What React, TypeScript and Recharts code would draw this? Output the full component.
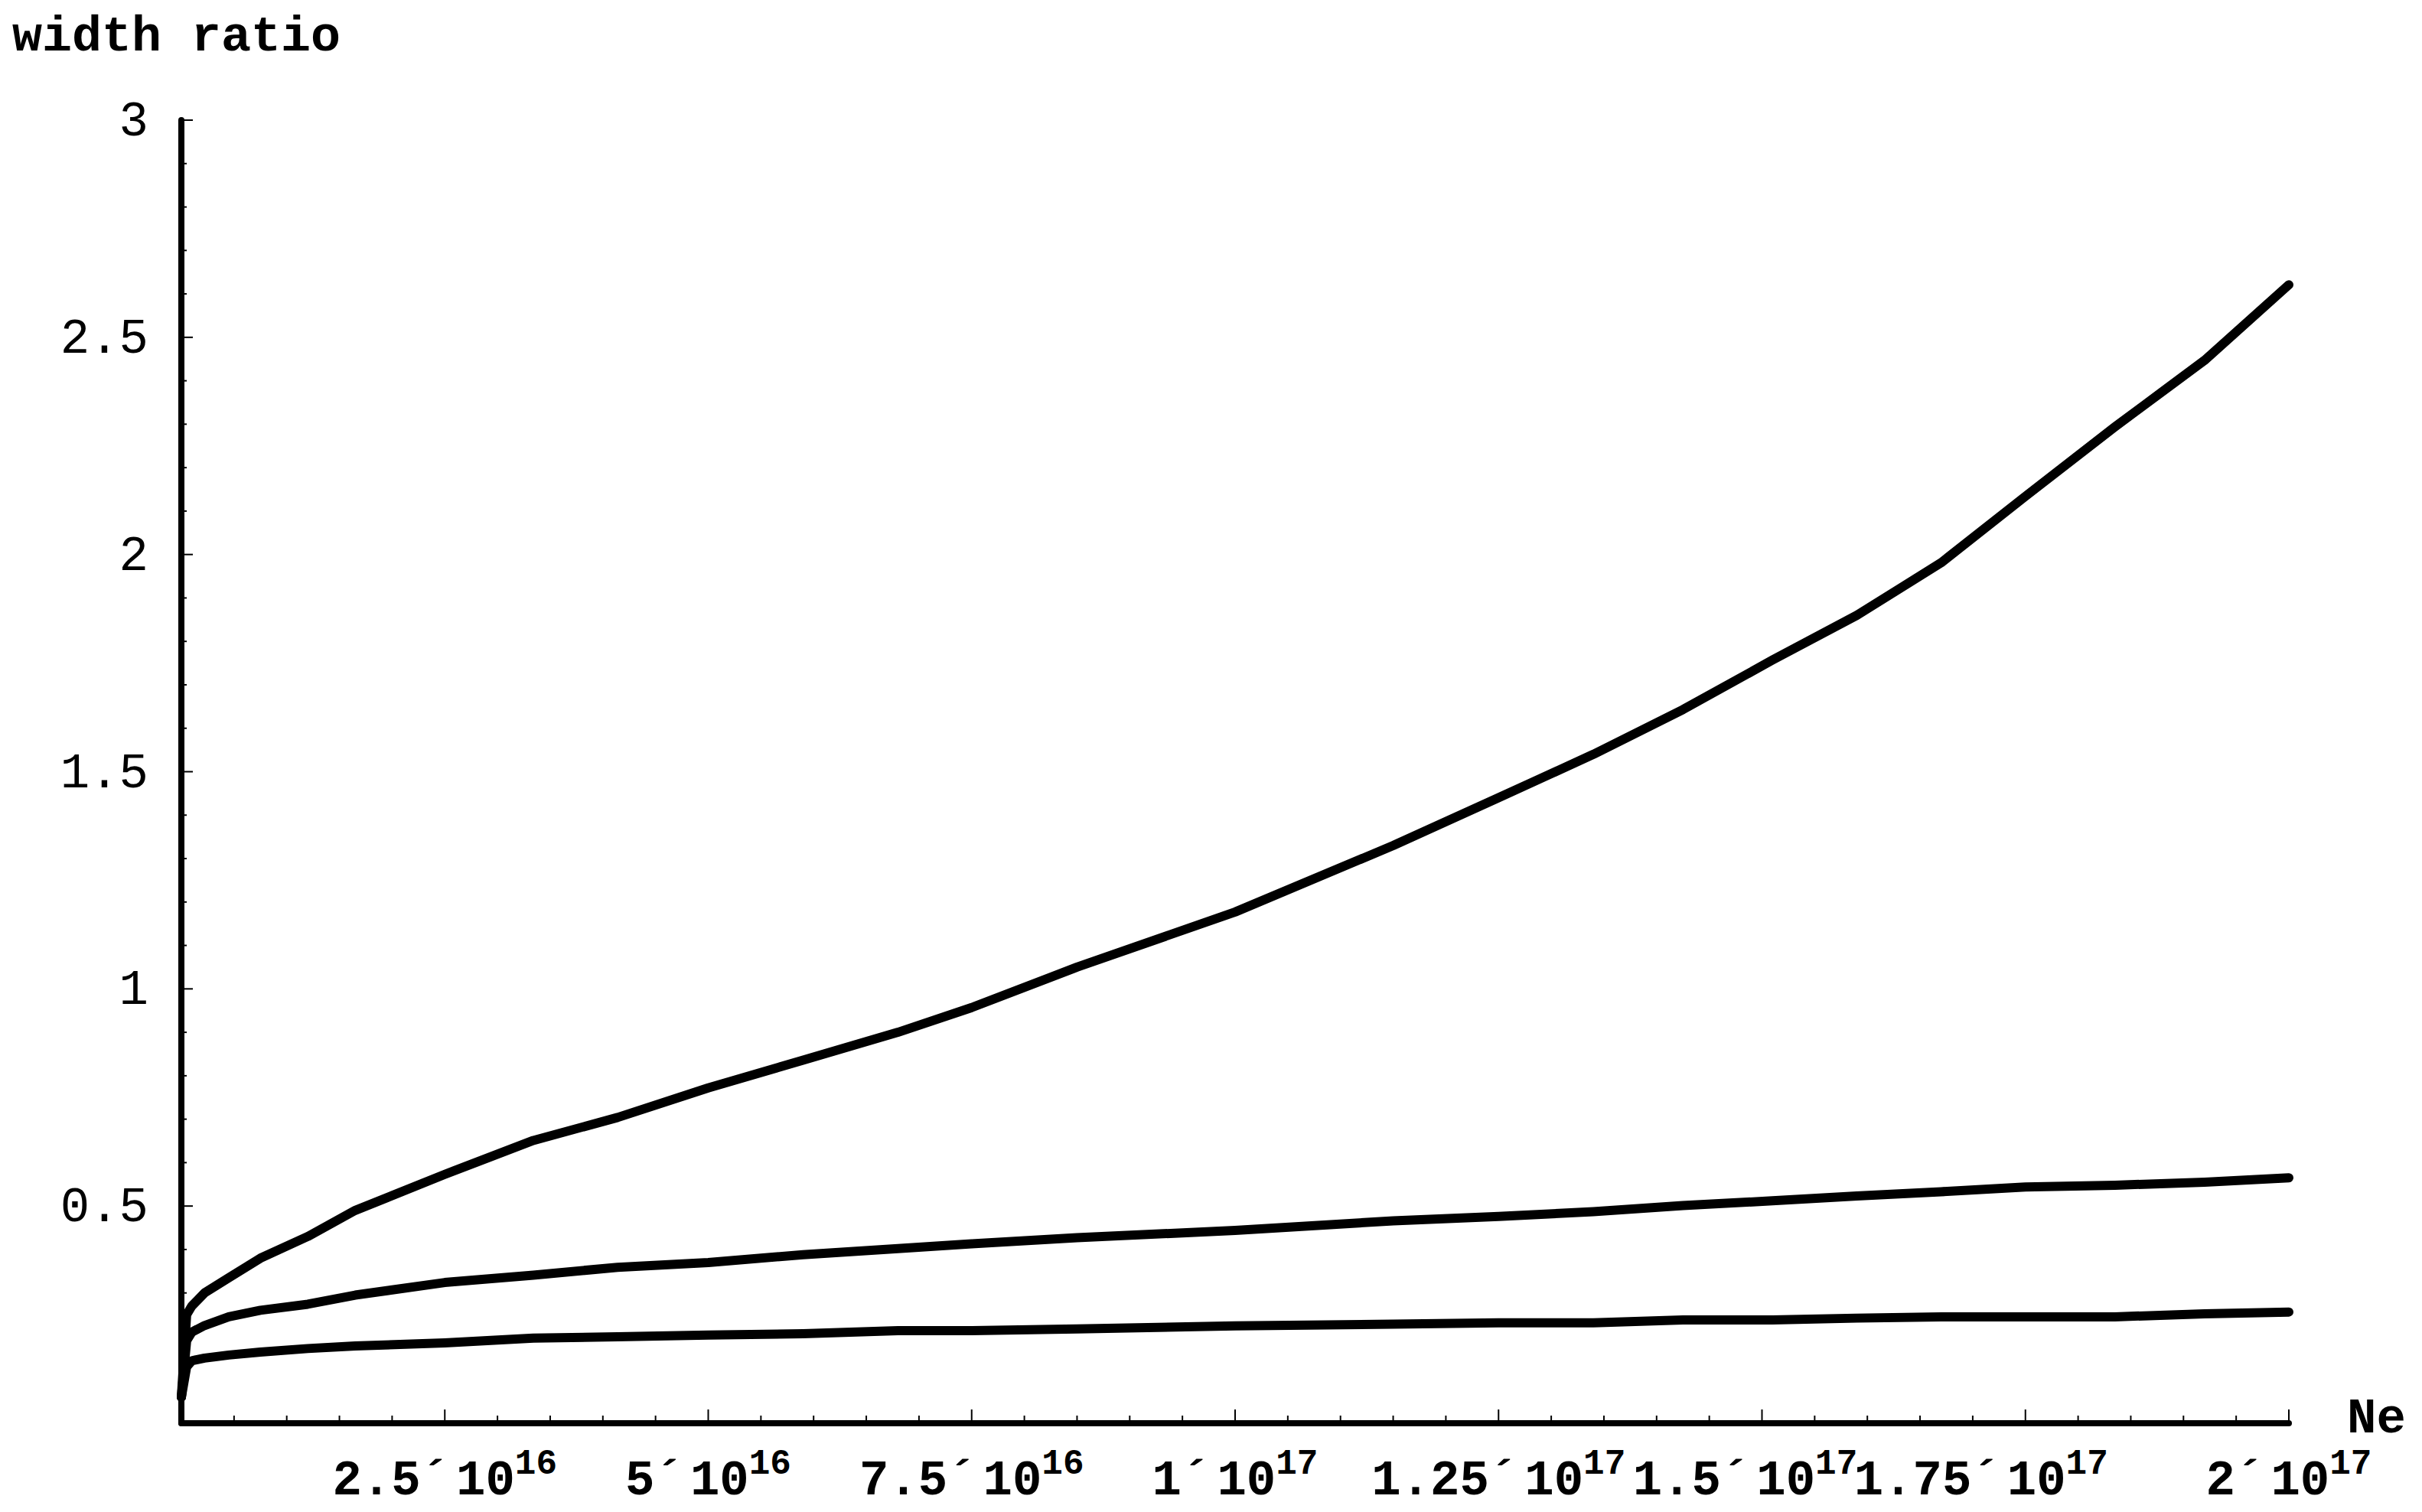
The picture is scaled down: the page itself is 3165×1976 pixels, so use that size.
import { LineChart, Line, XAxis, YAxis, Label } from "recharts";

// Ne values (in units of 1e15) shared by the three curves
const neSamples = [
    0, 0.5, 1, 2.2, 4.5, 7.5, 12, 16.5, 25, 33.4, 41.4, 50, 59, 68, 75, 85, 100, 115, 125, 134,
    142.5, 151, 159, 167, 175, 183.5, 192, 200,
];

const upperRatio = [
    0.06, 0.25, 0.27, 0.3, 0.335, 0.38, 0.43, 0.49, 0.573, 0.651, 0.704, 0.772, 0.836, 0.9, 0.957,
    1.05, 1.177, 1.33, 1.44, 1.54, 1.643, 1.757, 1.86, 1.981, 2.134, 2.294, 2.447, 2.621,
];

const middleRatio = [
    0.06, 0.19, 0.21, 0.225, 0.245, 0.26, 0.274, 0.295, 0.324, 0.341, 0.359, 0.37, 0.388, 0.402,
    0.413, 0.427, 0.444, 0.466, 0.476, 0.487, 0.501, 0.512, 0.523, 0.533, 0.544, 0.548, 0.555, 0.565,
];

const lowerRatio = [
    0.06, 0.13, 0.144, 0.15, 0.157, 0.164, 0.172, 0.178, 0.185, 0.196, 0.199, 0.203, 0.206, 0.213,
    0.213, 0.217, 0.224, 0.228, 0.231, 0.231, 0.238, 0.238, 0.242, 0.245, 0.245, 0.245, 0.252, 0.256,
];

// major x tick labels: mantissa ´ 10^exp
const xMajorTicks = [2.5e16, 5e16, 7.5e16, 1e17, 1.25e17, 1.5e17, 1.75e17, 2e17];
const xMantissas = ["2.5", "5", "7.5", "1", "1.25", "1.5", "1.75", "2"];
const xExponents = ["16", "16", "16", "17", "17", "17", "17", "17"];

const yMajorTicks = [0.5, 1, 1.5, 2, 2.5, 3];
const yTickLabels = ["0.5", "1", "1.5", "2", "2.5", "3"];

// minor ticks every 5e15 on x, every 0.1 on y
const xTicks = Array.from({ length: 40 }, (_, i) => (i + 1) * 5e15);
const yTicks = Array.from({ length: 30 }, (_, i) => Math.round((i + 1) * 10) / 100);

const data = neSamples.map((ne, i) => ({
    ne: ne * 1e15,
    upper: upperRatio[i],
    middle: middleRatio[i],
    lower: lowerRatio[i],
}));

const MONO = '"Liberation Mono", "DejaVu Sans Mono", monospace';

// Mathematica pushed a couple of labels left to keep them apart
const xLabelNudge: Record<string, number> = { "1.5": -22, "1.75": -58 };

function XTick(props: any) {
    const { x, y, payload } = props;
    const idx = xMajorTicks.findIndex((v) => Math.abs(v - payload.value) < 1e12);
    const major = idx >= 0;
    return (
        <g>
            <line x1={x} x2={x} y1={y} y2={y - (major ? 18 : 10)} stroke="#000" strokeWidth={2} />
            {major && (
                <text
                    x={x + (xLabelNudge[xMantissas[idx]] ?? 0)}
                    y={y + 93}
                    textAnchor="middle"
                    fontFamily={MONO}
                    fontWeight="bold"
                    fontSize={64}
                    fill="#000"
                >
                    <tspan>{xMantissas[idx] + "´"}</tspan>
                    <tspan dx={8}>10</tspan>
                    <tspan dy={-27} fontSize={46}>
                        {xExponents[idx]}
                    </tspan>
                </text>
            )}
        </g>
    );
}

function YTick(props: any) {
    const { x, y, payload } = props;
    const idx = yMajorTicks.findIndex((v) => Math.abs(v - payload.value) < 1e-6);
    const major = idx >= 0;
    return (
        <g>
            <line x1={x} x2={x + (major ? 15 : 7)} y1={y} y2={y} stroke="#000" strokeWidth={2} />
            {major && (
                <text
                    x={x - 43}
                    y={y + 20}
                    textAnchor="end"
                    fontFamily={MONO}
                    fontSize={64}
                    fill="#000"
                >
                    {yTickLabels[idx]}
                </text>
            )}
        </g>
    );
}

const axisLine = { stroke: "#000", strokeWidth: 8, strokeLinecap: "round" as const };

export default function App() {
    return (
        <div style={{ position: "absolute", left: 0, top: 0, background: "#fff" }}>
            <LineChart
                width={3165}
                height={1976}
                data={data}
                margin={{ top: 157, right: 174, bottom: 56, left: 87 }}
            >
                <XAxis
                    type="number"
                    dataKey="ne"
                    domain={[0, 2e17]}
                    ticks={xTicks}
                    interval={0}
                    height={60}
                    tickSize={0}
                    tickMargin={0}
                    tickLine={false}
                    axisLine={axisLine}
                    tick={(p: any) => <XTick {...p} />}
                >
                    <Label
                        content={() => (
                            <text
                                x={3067}
                                y={1872}
                                fontFamily={MONO}
                                fontWeight="bold"
                                fontSize={64}
                                fill="#000"
                            >
                                Ne
                            </text>
                        )}
                    />
                </XAxis>
                <YAxis
                    type="number"
                    domain={[0, 3]}
                    ticks={yTicks}
                    interval={0}
                    width={150}
                    tickSize={0}
                    tickMargin={0}
                    tickLine={false}
                    axisLine={axisLine}
                    tick={(p: any) => <YTick {...p} />}
                >
                    <Label
                        content={() => (
                            <text
                                x={16}
                                y={66}
                                fontFamily={MONO}
                                fontWeight="bold"
                                fontSize={65}
                                fill="#000"
                            >
                                width ratio
                            </text>
                        )}
                    />
                </YAxis>
                {["upper", "middle", "lower"].map((key) => (
                    <Line
                        key={key}
                        type="linear"
                        dataKey={key}
                        stroke="#000"
                        strokeWidth={12}
                        strokeLinecap="round"
                        strokeLinejoin="round"
                        dot={false}
                        activeDot={false}
                        isAnimationActive={false}
                    />
                ))}
            </LineChart>
        </div>
    );
}
